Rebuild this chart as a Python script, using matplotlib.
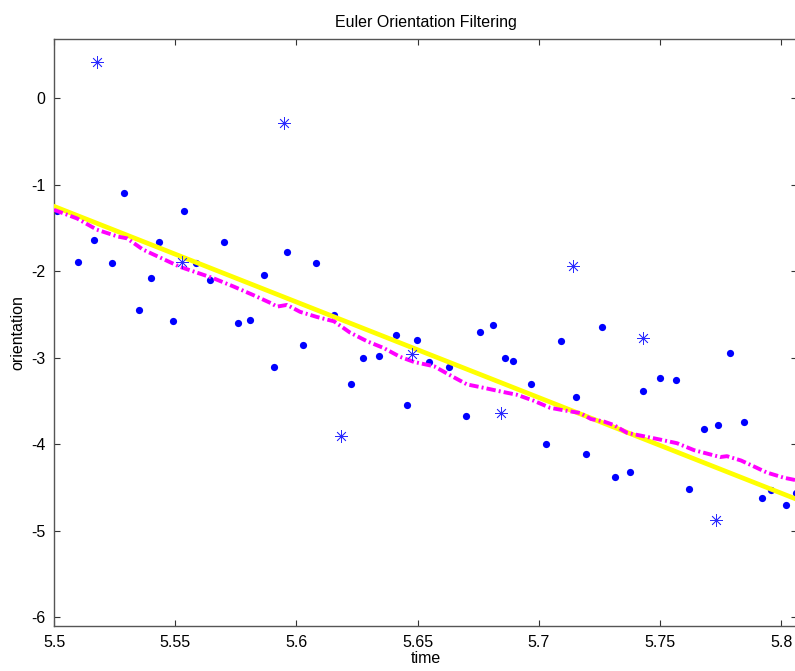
import matplotlib.pyplot as plt

# raw measurements (filled dots)
meas_t = [5.5014, 5.5099, 5.5165, 5.5239, 5.529, 5.5349, 5.54, 5.5433, 5.549, 5.5538,
          5.5586, 5.5644, 5.570, 5.5759, 5.5809, 5.5868, 5.5908, 5.596, 5.6027, 5.608,
          5.6157, 5.6225, 5.6276, 5.6341, 5.6411, 5.6456, 5.6499, 5.6548, 5.6628, 5.670,
          5.6757, 5.6812, 5.6859, 5.6895, 5.6968, 5.7031, 5.709, 5.7153, 5.7196, 5.7262,
          5.7316, 5.7375, 5.7431, 5.7499, 5.7566, 5.762, 5.7681, 5.7738, 5.779, 5.7848,
          5.7921, 5.7958, 5.8019, 5.8062]
meas_y = [-1.30, -1.89, -1.64, -1.91, -1.09, -2.45, -2.08, -1.66, -2.58, -1.30,
          -1.91, -2.10, -1.66, -2.60, -2.56, -2.04, -3.11, -1.78, -2.85, -1.91,
          -2.51, -3.31, -3.00, -2.98, -2.74, -3.55, -2.80, -3.05, -3.11, -3.67,
          -2.70, -2.62, -3.00, -3.04, -3.30, -4.00, -2.81, -3.46, -4.12, -2.64,
          -4.38, -4.32, -3.39, -3.24, -3.26, -4.52, -3.83, -3.78, -2.95, -3.75,
          -4.62, -4.53, -4.71, -4.57]

# outliers (asterisks)
out_t = [5.5177, 5.5527, 5.5948, 5.6185, 5.6478, 5.6845, 5.7141, 5.743, 5.7732]
out_y = [0.42, -1.89, -0.29, -3.91, -2.96, -3.64, -1.94, -2.77, -4.88]

# linear fit (yellow)
fit_t = [5.5, 5.8065]
fit_y = [-1.25, -4.64]

# filtered estimate (magenta)
filt_t = [5.5, 5.5095, 5.5177, 5.5264, 5.5301, 5.5367, 5.552, 5.5656, 5.5743, 5.5825,
          5.5895, 5.592, 5.5961, 5.6015, 5.6085, 5.6155, 5.6221, 5.6291, 5.6361, 5.6427,
          5.6485, 5.6568, 5.6638, 5.6704, 5.6774, 5.684, 5.691, 5.698, 5.7046, 5.7104,
          5.717, 5.7215, 5.7269, 5.731, 5.7364, 5.7434, 5.7504, 5.757, 5.764, 5.7694,
          5.7748, 5.7776, 5.7834, 5.7888, 5.7941, 5.8012, 5.8065]
filt_y = [-1.29, -1.39, -1.52, -1.60, -1.62, -1.75, -1.95, -2.08, -2.18, -2.28,
          -2.37, -2.41, -2.39, -2.47, -2.53, -2.58, -2.71, -2.81, -2.89, -2.99,
          -3.05, -3.10, -3.21, -3.31, -3.35, -3.39, -3.43, -3.50, -3.58, -3.61,
          -3.64, -3.71, -3.74, -3.78, -3.87, -3.91, -3.95, -3.99, -4.07, -4.11,
          -4.15, -4.14, -4.19, -4.26, -4.33, -4.39, -4.42]

plt.rcParams['font.family'] = ['Liberation Sans', 'DejaVu Sans']
plt.rcParams['axes.unicode_minus'] = False

fig = plt.figure(figsize=(7.95, 6.71), dpi=100)
ax = fig.add_axes([54 / 795, 44.7 / 671, 743 / 795, 587.3 / 671])

ax.plot(meas_t, meas_y, 'o', color='#0000ff', markersize=5.2, markeredgewidth=0, zorder=2)
ax.plot(fit_t, fit_y, '-', color='#ffff00', linewidth=3.4, zorder=3)
ax.plot(filt_t, filt_y, color='#ff00ff', linewidth=2.8,
        linestyle=(0, (2.4, 0.8, 0.5, 0.8)), zorder=4)
ax.plot(out_t, out_y, linestyle='none', marker=(8, 2, 0), color='#2a2aff',
        markersize=9, markeredgewidth=0.55, zorder=5)

ax.set_xlim(5.5, 5.8065)
ax.set_ylim(-6.108, 0.686)
ax.set_xticks([5.5, 5.55, 5.6, 5.65, 5.7, 5.75, 5.8])
ax.set_xticklabels(['5.5', '5.55', '5.6', '5.65', '5.7', '5.75', '5.8'])
ax.set_yticks([-6, -5, -4, -3, -2, -1, 0])
ax.tick_params(direction='in', length=4, width=0.8, labelsize=11.5,
               top=True, right=True, pad=6, color='#333333')

for sp in ax.spines.values():
    sp.set_color('#555555')
    sp.set_linewidth(1.0)

ax.set_title('Euler Orientation Filtering', fontsize=11.5, pad=9)
ax.set_xlabel('time', fontsize=11.5, labelpad=1)
ax.set_ylabel('orientation', fontsize=11.5, labelpad=4)

fig.savefig('out.png', dpi=100)
